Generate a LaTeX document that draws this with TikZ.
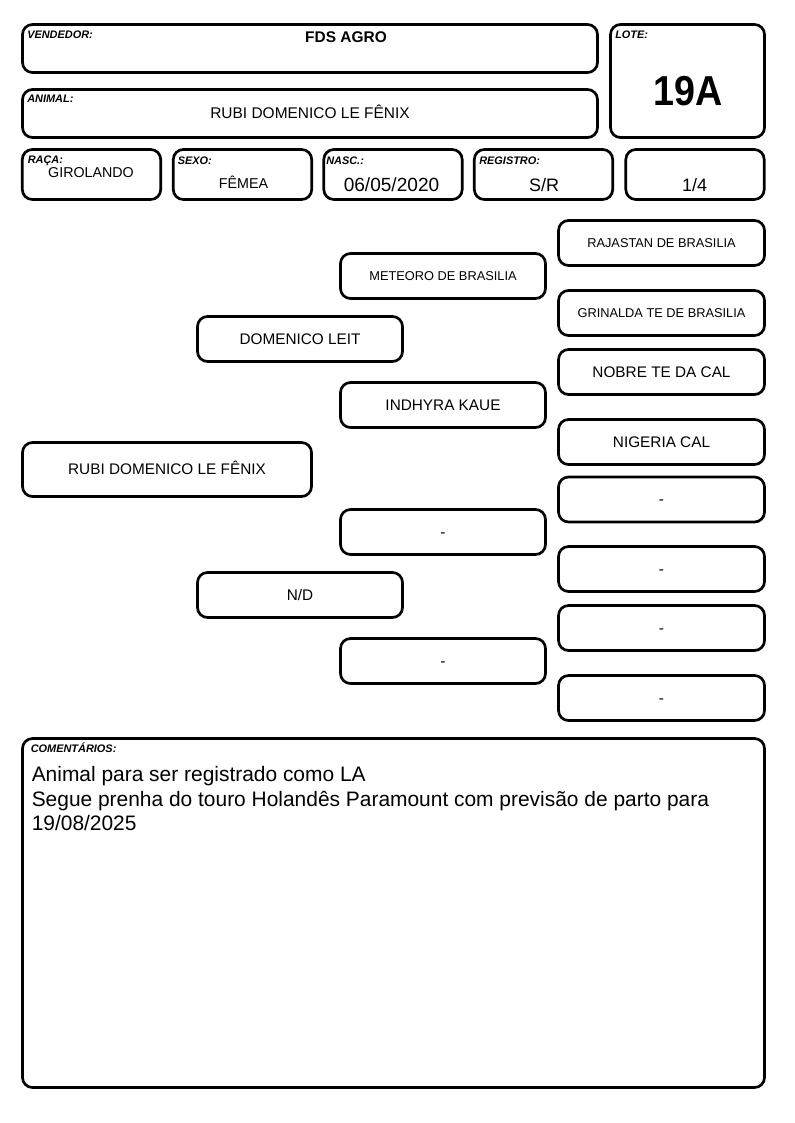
\documentclass[tikz,border=0pt]{standalone}
\usepackage{fontspec}
\setmainfont{Liberation Sans}
\begin{document}
\begin{tikzpicture}[x=0.75pt,y=-0.75pt,
  box/.style={draw, line width=2pt, rounded corners=7.5pt, inner sep=0pt},
  lab/.style={anchor=base west, inner sep=0pt, font=\fontsize{8.2}{9}\selectfont\bfseries\itshape},
  val/.style={anchor=base, inner sep=0pt},
  com/.style={anchor=base west, inner sep=0pt, font=\fontsize{15.7}{18.2}\selectfont},
  hwide/.style={box, minimum width=431.25pt, minimum height=36pt},
  hsmall/.style={box, minimum width=103.8pt, minimum height=37.5pt},
  ped/.style={box, text height=8.2pt, text depth=0pt, font=\fontsize{11.5}{13}\selectfont},
  peds/.style={box, text height=6.9pt, text depth=0pt, font=\fontsize{9.6}{11}\selectfont},
  g2/.style={minimum width=153.75pt, minimum height=33.75pt},
  g3/.style={minimum width=154.5pt, minimum height=33.75pt}]
\useasboundingbox (0,0) rectangle (794,1123);
% header
\node[hwide] (vend) at (310,48.5) {};
\node[box, minimum width=115.5pt, minimum height=84.75pt] (lote) at (687.5,81) {};
\node[hwide] (anim) at (310,113.5) {};
\node[hsmall] (raca) at (91.5,174.5) {};
\node[hsmall] (sexo) at (242.5,174.5) {};
\node[hsmall] (nasc) at (393,174.5) {};
\node[hsmall] (regi) at (543.5,174.5) {};
\node[hsmall] (frac) at (695,174.5) {};
% labels
\node[lab] (lvend) at (27,39) {VENDEDOR:};
\node[lab] (llote) at (615,39) {LOTE:};
\node[lab] (lanim) at (27,103) {ANIMAL:};
\node[lab] (lraca) at (27.5,163.5) {RAÇA:};
\node[lab] (lsexo) at (177.5,165) {SEXO:};
\node[lab] (lnasc) at (326,165) {NASC.:};
\node[lab] (lregi) at (479,165) {REGISTRO:};
% values
\node[val, font=\fontsize{11.6}{13}\selectfont\bfseries] (tvend) at (346,43) {FDS AGRO};
\node[val, font=\fontsize{31.4}{34}\selectfont\bfseries] (tlote) at (688,105.5) {\scalebox{0.9}[1]{19A}};
\node[val, font=\fontsize{11.6}{13}\selectfont] (tanim) at (310,119) {RUBI DOMENICO LE FÊNIX};
\node[val, font=\fontsize{10.7}{12}\selectfont] (traca) at (91,178) {GIROLANDO};
\node[val, font=\fontsize{10.7}{12}\selectfont] (tsexo) at (243.5,189) {FÊMEA};
\node[val, font=\fontsize{14.3}{16}\selectfont] (tnasc) at (391.5,192) {06/05/2020};
\node[val, font=\fontsize{13.5}{15}\selectfont] (tregi) at (544,192) {S/R};
\node[val, font=\fontsize{13.5}{15}\selectfont] (tfrac) at (694.5,192) {1/4};
% pedigree
\node[ped, minimum width=216.75pt, minimum height=40.5pt] (p0) at (167,469.5) {RUBI DOMENICO LE FÊNIX};
\node[ped, g2] (p1) at (300,339) {DOMENICO LEIT};
\node[ped, g2] (p2) at (300,595) {N/D};
\node[peds, g2] (p11) at (443,276) {METEORO DE BRASILIA};
\node[ped, g2] (p12) at (443,405) {INDHYRA KAUE};
\node[ped, g2] (p21) at (443,532) {-};
\node[ped, g2] (p22) at (443,661) {-};
\node[peds, g3] (p111) at (661.5,243) {RAJASTAN DE BRASILIA};
\node[peds, g3] (p112) at (661.5,313) {GRINALDA TE DE BRASILIA};
\node[ped, g3] (p121) at (661.5,372) {NOBRE TE DA CAL};
\node[ped, g3] (p122) at (661.5,442) {NIGERIA CAL};
\node[ped, g3] (p211) at (661.5,499.5) {-};
\node[ped, g3] (p212) at (661.5,569) {-};
\node[ped, g3] (p221) at (661.5,628) {-};
\node[ped, g3] (p222) at (661.5,698) {-};
% comments
\node[box, minimum width=556.5pt, minimum height=261.75pt] (com) at (393.5,913) {};
\node[lab] (lcom) at (30.5,752.7) {COMENTÁRIOS:};
\node[com] (tcom1) at (31.5,781.7) {Animal para ser registrado como LA};
\node[com] (tcom2) at (31.5,806) {Segue prenha do touro Holandês Paramount com previsão de parto para};
\node[com] (tcom3) at (31.5,830.3) {19/08/2025};
\end{tikzpicture}
\end{document}
